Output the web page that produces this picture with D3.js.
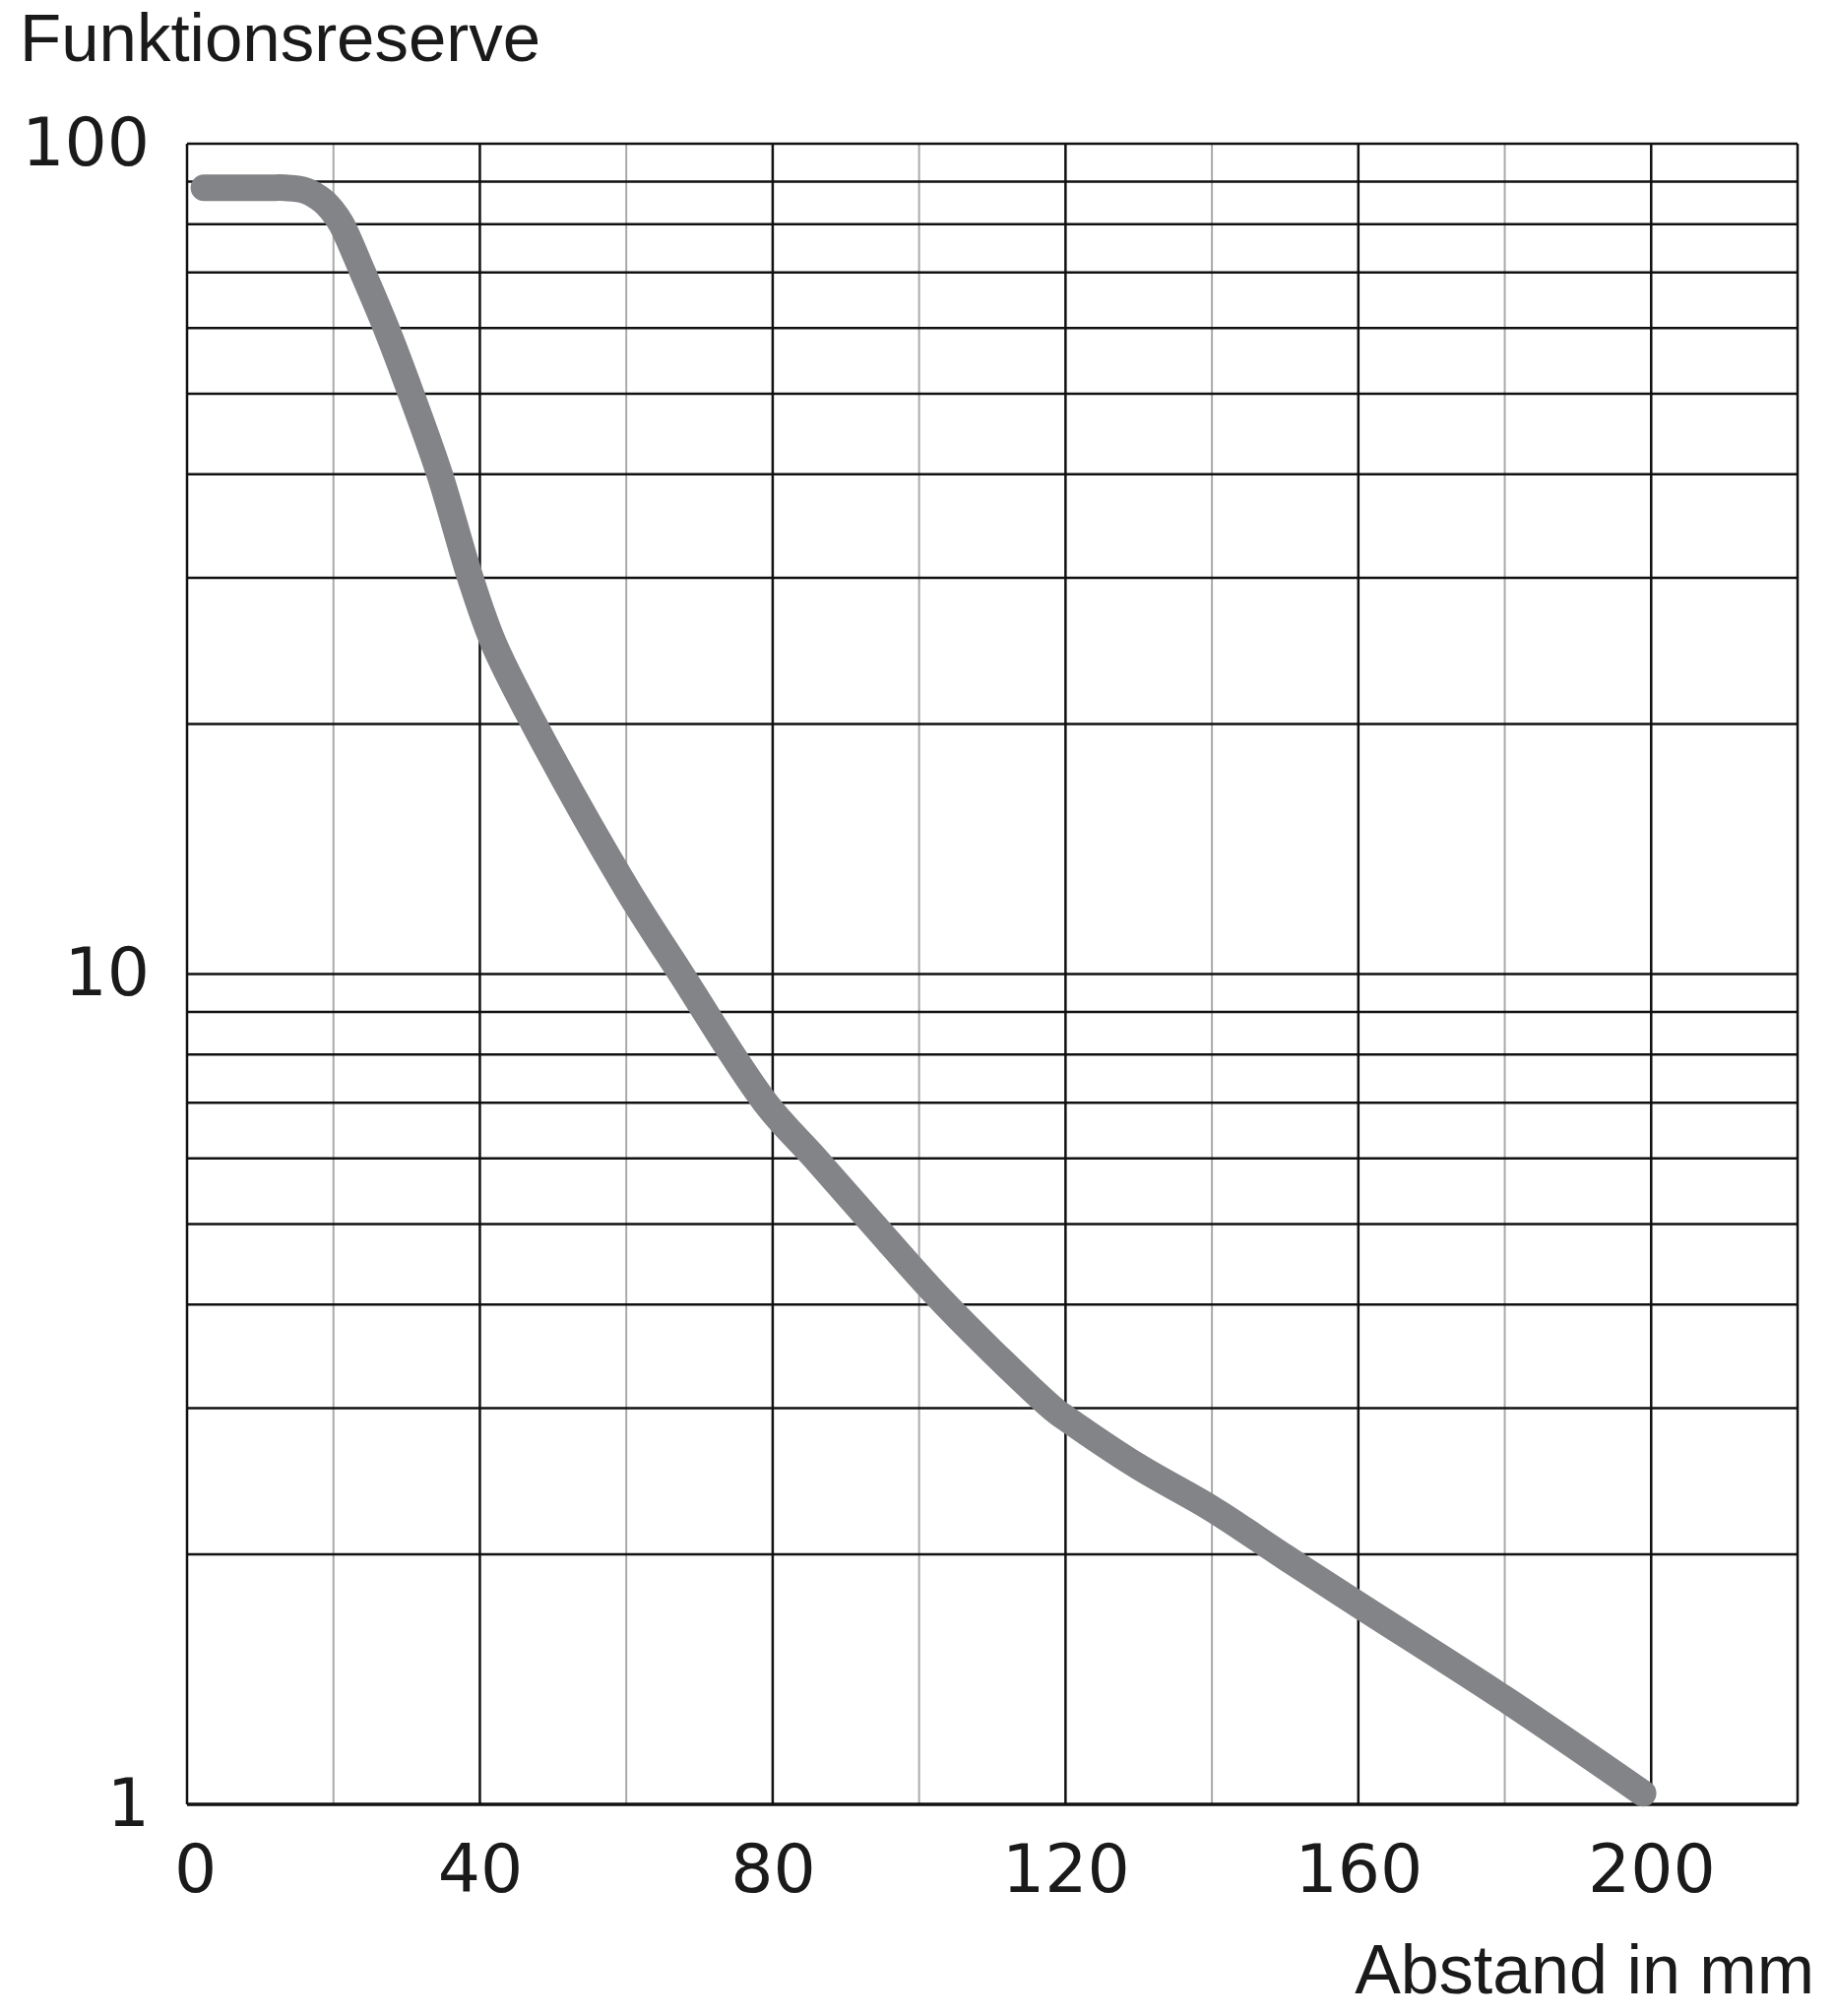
<!DOCTYPE html>
<html>
<head>
<meta charset="utf-8">
<script src="https://cdn.jsdelivr.net/npm/d3@7"></script>
<style>
  body { margin: 0; background: #fff; }
  text { font-family: "Liberation Sans", Arial, sans-serif; fill: #1a1a1a; }
</style>
</head>
<body>
<div id="chart"></div>
<script>
// curve (distance in mm, reserve on log axis)
var distMm = [2.3, 11, 13.4, 16.2, 18.6, 20, 21.1, 24, 27.2, 30.6, 34.5, 38.7, 41.9, 47.4, 60, 67.5, 79, 85.8, 93.7, 103.6, 118.2, 120, 130, 140, 150, 160, 180, 198.9];
var reserve = [88.5, 88.5, 88.5, 87.8, 85.3, 82.7, 80, 70, 60, 50, 40, 30, 25, 20, 12.7, 10, 7, 6, 5, 4, 3, 2.92, 2.55, 2.27, 1.985, 1.74, 1.34, 1.031];

var xTicks = [0, 40, 80, 120, 160, 200];
var yTicks = [1, 10, 100];
var yLabel = "Funktionsreserve";
var xLabel = "Abstand in mm";

var svgWidth = 1863;
var svgHeight = 2048;

var margin = { top: 146, right: 37, bottom: 215, left: 190 };
var width = svgWidth - margin.left - margin.right;
var height = svgHeight - margin.top - margin.bottom;

var numFont = '"DejaVu Sans", "Liberation Sans", sans-serif';

var svg = d3.select("#chart")
  .append("svg")
  .attr("width", svgWidth)
  .attr("height", svgHeight);

var chartGroup = svg.append("g")
  .attr("transform", `translate(${margin.left}, ${margin.top})`);

var x = d3.scaleLinear().domain([0, 220]).range([0, width]);
var y = d3.scaleLog().domain([1, 100]).range([height, 0]);

// vertical grid: every 20 mm, light ones between the labelled 40s
var gridX = d3.range(0, 221, 20);
chartGroup.append("g")
  .selectAll("line")
  .data(gridX)
  .enter()
  .append("line")
  .attr("x1", (d) => x(d))
  .attr("x2", (d) => x(d))
  .attr("y1", 0)
  .attr("y2", height)
  .attr("stroke", (d) => (d % 40 === 0 || d === 220 ? "#111" : "#aaa"))
  .attr("stroke-width", (d) => (d % 40 === 0 || d === 220 ? 2.5 : 2));

// horizontal grid on log ticks 1..9, 10..90, 100
chartGroup.append("g")
  .selectAll("line")
  .data(y.ticks())
  .enter()
  .append("line")
  .attr("x1", 0)
  .attr("x2", width)
  .attr("y1", (d) => y(d))
  .attr("y2", (d) => y(d))
  .attr("stroke", "#111")
  .attr("stroke-width", (d) => (d === 1 ? 3.5 : 2.5));

// axes only used for the labels
var leftAxis = d3.axisLeft(y).tickValues(yTicks).tickSize(0).tickPadding(38).tickFormat(d3.format("d"));
var bottomAxis = d3.axisBottom(x).tickValues(xTicks).tickSize(0).tickPadding(41);

var yAxisG = chartGroup.append("g").call(leftAxis);
yAxisG.select(".domain").remove();
yAxisG.selectAll("text")
  .attr("font-size", 68)
  .attr("dy", "0.31em")
  .style("font-family", numFont)
  .attr("fill", "#1a1a1a");

var xAxisG = chartGroup.append("g")
  .attr("transform", `translate(0, ${height})`)
  .call(bottomAxis);
xAxisG.select(".domain").remove();
xAxisG.selectAll("text")
  .attr("font-size", 68)
  .attr("dy", "0.71em")
  .attr("dx", (d) => (d === 0 ? 8 : 0))
  .style("font-family", numFont)
  .attr("fill", "#1a1a1a");

// the curve
var points = distMm.map((d, i) => [d, reserve[i]]);
var line = d3.line()
  .x((d) => x(d[0]))
  .y((d) => y(d[1]))
  .curve(d3.curveCatmullRom.alpha(0.5));

chartGroup.append("path")
  .datum(points)
  .attr("d", line)
  .attr("fill", "none")
  .attr("stroke", "#828487")
  .attr("stroke-width", 27)
  .attr("stroke-linecap", "round")
  .attr("stroke-linejoin", "round");

// axis titles
svg.append("text")
  .attr("x", 20)
  .attr("y", 62)
  .attr("font-size", 69)
  .text(yLabel);

svg.append("text")
  .attr("x", 1843)
  .attr("y", 2025)
  .attr("text-anchor", "end")
  .attr("font-size", 70)
  .text(xLabel);
</script>
</body>
</html>
